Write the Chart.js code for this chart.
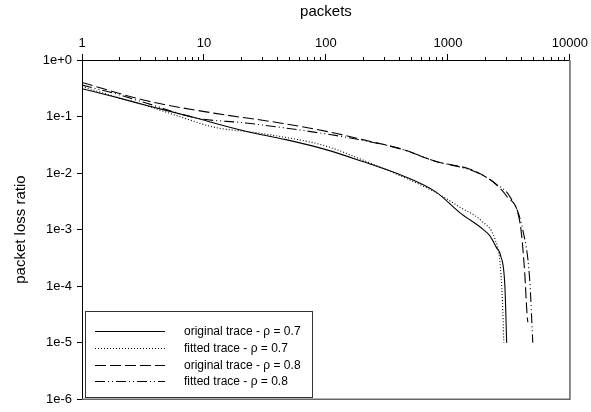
<!DOCTYPE html>
<html>
<head>
<meta charset="utf-8">
<script src="https://cdn.jsdelivr.net/npm/chart.js@4/dist/chart.umd.min.js"></script>
<style>
    html, body { margin: 0; padding: 0; background: #fff; }
    #wrap { width: 591px; height: 412px; }
</style>
</head>
<body>
<div id="wrap"><canvas id="LossChart"></canvas></div>
<script>
// x = packets, y = packet loss ratio
const origX07 = [1, 1.8, 3.4, 7.7, 22, 47, 100, 200, 430, 800, 1250, 1950, 2200, 2500, 2700, 2930, 3030];
const origY07 = [0.31, 0.226, 0.157, 0.1, 0.055, 0.039, 0.026, 0.016, 0.0089, 0.0046, 0.002, 0.001, 0.00078, 0.00048, 0.00035, 0.0001, 0.00001];

const fitX07 = [1, 1.8, 3.4, 6.3, 12, 30, 100, 200, 430, 800, 1250, 1900, 2430, 2670, 2800, 2870];
const fitY07 = [0.34, 0.23, 0.155, 0.1, 0.065, 0.05, 0.03, 0.017, 0.0085, 0.0045, 0.0025, 0.0014, 0.00068, 0.00026, 0.000052, 0.00001];

const origX08 = [1, 3.4, 12, 42, 108, 200, 430, 800, 1500, 2050, 2500, 3030, 3900, 4240, 4460, 4520];
const origY08 = [0.4, 0.19, 0.115, 0.077, 0.053, 0.039, 0.026, 0.016, 0.0118, 0.0085, 0.0062, 0.0039, 0.0013, 0.0002, 0.00003, 0.000023];

const fitX08 = [1, 1.8, 3.4, 8.7, 22, 108, 200, 430, 800, 1500, 2100, 2500, 3200, 4100, 4680, 4960];
const fitY08 = [0.36, 0.26, 0.172, 0.094, 0.077, 0.048, 0.038, 0.026, 0.016, 0.0115, 0.0083, 0.0063, 0.0039, 0.001, 0.00013, 0.00001];

const seriesLabels = [
    'original trace - \u03c1 = 0.7',
    'fitted trace - \u03c1 = 0.7',
    'original trace - \u03c1 = 0.8',
    'fitted trace - \u03c1 = 0.8'
];

const xTicks = [1, 10, 100, 1000, 10000];
const xTickLabels = ['1', '10', '100', '1000', '10000'];
const yTicks = [1e-6, 1e-5, 1e-4, 1e-3, 1e-2, 1e-1, 1];
const yTickLabels = ['1e-6', '1e-5', '1e-4', '1e-3', '1e-2', '1e-1', '1e+0'];

const FONT = '"Liberation Sans", Arial, sans-serif';

const toPoints = (xs, ys) => xs.map((x, i) => ({ x: x, y: ys[i] }));

const makeSet = (label, xs, ys, dash) => ({
    label: label,
    data: toPoints(xs, ys),
    borderColor: '#000',
    borderWidth: 1.1,
    borderDash: dash,
    pointRadius: 0,
    cubicInterpolationMode: 'monotone',
    fill: false
});

// minor tick marks on the top axis
const minorTicks = {
    id: 'minorTicks',
    afterDraw(chart) {
        const ctx = chart.ctx;
        const xs = chart.scales.x;
        const top = chart.chartArea.top;
        ctx.save();
        ctx.strokeStyle = '#000';
        ctx.lineWidth = 1;
        for (let d = 1; d < 10000; d *= 10) {
            for (let m = 2; m <= 9; m++) {
                const px = Math.round(xs.getPixelForValue(d * m)) + 0.5;
                ctx.beginPath();
                ctx.moveTo(px, top);
                ctx.lineTo(px, top - 3);
                ctx.stroke();
            }
        }
        ctx.restore();
    }
};

// right and bottom frame edges
const frame = {
    id: 'frame',
    beforeDatasetsDraw(chart) {
        const { ctx, chartArea } = chart;
        ctx.save();
        ctx.strokeStyle = '#666';
        ctx.lineWidth = 1.5;
        ctx.beginPath();
        ctx.moveTo(chartArea.left, chartArea.bottom);
        ctx.lineTo(chartArea.right, chartArea.bottom);
        ctx.lineTo(chartArea.right, chartArea.top);
        ctx.stroke();
        ctx.restore();
    }
};

// boxed legend in the lower left corner of the plot
const boxLegend = {
    id: 'boxLegend',
    afterDraw(chart) {
        const { ctx, chartArea } = chart;
        const w = 227, h = 86;
        const left = chartArea.left + 3;
        const top = chartArea.bottom - 2 - h;
        ctx.save();
        ctx.fillStyle = '#fff';
        ctx.fillRect(left, top, w, h);
        ctx.strokeStyle = '#333';
        ctx.lineWidth = 1;
        ctx.strokeRect(Math.round(left) + 0.5, Math.round(top) + 0.5, w, h);
        ctx.font = '12px ' + FONT;
        ctx.textBaseline = 'middle';
        ctx.fillStyle = '#000';
        chart.data.datasets.forEach((ds, i) => {
            const y = Math.round(top + 20 + i * 16.7) + 0.5;
            ctx.beginPath();
            ctx.setLineDash(ds.borderDash || []);
            ctx.lineWidth = ds.borderWidth;
            ctx.strokeStyle = ds.borderColor;
            ctx.moveTo(left + 10, y);
            ctx.lineTo(left + 80, y);
            ctx.stroke();
            ctx.setLineDash([]);
            ctx.fillText(ds.label, left + 99, y);
        });
        ctx.restore();
    }
};

new Chart(document.getElementById('LossChart'), {
    type: 'line',
    data: {
        datasets: [
            makeSet(seriesLabels[0], origX07, origY07, []),
            makeSet(seriesLabels[1], fitX07, fitY07, [1, 2]),
            makeSet(seriesLabels[2], origX08, origY08, [11, 4]),
            makeSet(seriesLabels[3], fitX08, fitY08, [10, 3, 1, 3, 1, 3])
        ]
    },
    options: {
        responsive: true,
        maintainAspectRatio: false,
        animation: false,
        layout: { padding: { left: 0, top: 0, right: 21, bottom: 11 } },
        plugins: {
            legend: { display: false },
            tooltip: { enabled: false }
        },
        scales: {
            x: {
                type: 'logarithmic',
                position: 'top',
                min: 1,
                max: 10000,
                afterBuildTicks: scale => { scale.ticks = xTicks.map(v => ({ value: v })); },
                afterFit: scale => { scale.height = 60; },
                title: {
                    display: true,
                    text: 'packets',
                    color: '#000',
                    font: { family: FONT, size: 15 },
                    padding: { top: 3, bottom: 0 }
                },
                ticks: {
                    color: '#000',
                    font: { family: FONT, size: 13 },
                    padding: 3,
                    autoSkip: false,
                    maxRotation: 0,
                    callback: (v, i) => xTickLabels[i]
                },
                grid: {
                    drawOnChartArea: false,
                    drawTicks: true,
                    tickLength: 6,
                    color: '#000'
                },
                border: { display: true, color: '#000', width: 1 }
            },
            y: {
                type: 'logarithmic',
                min: 1e-6,
                max: 1,
                afterBuildTicks: scale => { scale.ticks = yTicks.map(v => ({ value: v })); },
                afterFit: scale => { scale.width = 82; },
                title: {
                    display: true,
                    text: 'packet loss ratio',
                    color: '#000',
                    font: { family: FONT, size: 15 },
                    padding: { top: 12, bottom: 0 }
                },
                ticks: {
                    color: '#000',
                    font: { family: FONT, size: 13 },
                    padding: 5,
                    autoSkip: false,
                    callback: (v, i) => yTickLabels[i]
                },
                grid: {
                    drawOnChartArea: false,
                    drawTicks: true,
                    tickLength: 5,
                    color: '#000'
                },
                border: { display: true, color: '#000', width: 1 }
            }
        }
    },
    plugins: [minorTicks, frame, boxLegend]
});
</script>
</body>
</html>
